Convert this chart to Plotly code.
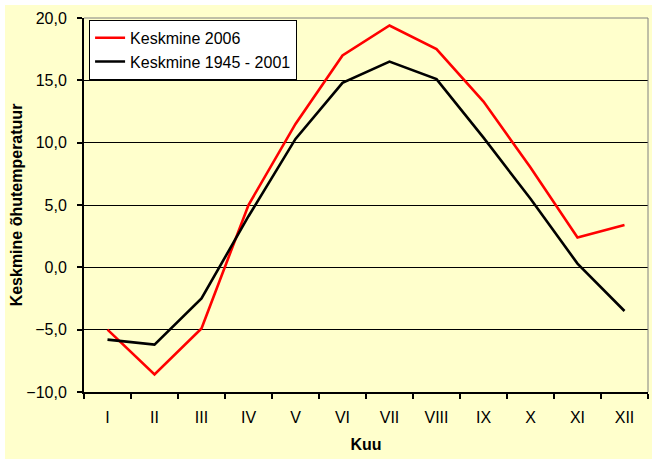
import plotly.graph_objects as go

# Monthly mean air temperature (Estonia)
months = ["I", "II", "III", "IV", "V", "VI", "VII", "VIII", "IX", "X", "XI", "XII"]
temp_2006 = [-5.0, -8.6, -4.9, 5.0, 11.5, 17.0, 19.4, 17.5, 13.3, 8.0, 2.4, 3.4]
temp_1945_2001 = [-5.8, -6.2, -2.5, 4.1, 10.3, 14.8, 16.5, 15.1, 10.4, 5.5, 0.3, -3.5]

BG = "#FFFFCC"
FONT = "Liberation Sans, Arial, sans-serif"

fig = go.Figure()

fig.add_trace(go.Scatter(
    x=months, y=temp_2006, mode="lines", name="Keskmine 2006",
    line=dict(color="#FF0000", width=2.6),
))
fig.add_trace(go.Scatter(
    x=months, y=temp_1945_2001, mode="lines", name="Keskmine 1945 - 2001",
    line=dict(color="#000000", width=2.6),
))

# margins in px, used to place the yellow chart-area box round the plot
L, R, T, B = 84, 9, 18, 72
W, H = 657, 464
pw, ph = W - L - R, H - T - B
pad = 5

fig.add_shape(type="rect", xref="paper", yref="paper", layer="below",
              x0=-(L - pad) / pw, x1=1 + (R - pad) / pw,
              y0=-(B - pad) / ph, y1=1 + (T - pad) / ph,
              fillcolor=BG, line=dict(width=0))
# gray plot-area border on top and right
fig.add_shape(type="line", xref="paper", yref="paper", x0=0, x1=1, y0=1, y1=1,
              line=dict(color="#808080", width=1))
fig.add_shape(type="line", xref="paper", yref="paper", x0=1, x1=1, y0=0, y1=1,
              line=dict(color="#808080", width=1))

fig.update_layout(
    width=W, height=H,
    margin=dict(l=L, r=R, t=T, b=B, autoexpand=False),
    paper_bgcolor="white",
    plot_bgcolor=BG,
    separators=",.",
    font=dict(family=FONT, size=16, color="black"),
    legend=dict(
        x=0.009, y=0.995, xanchor="left", yanchor="top",
        bgcolor="white", bordercolor="black", borderwidth=1,
        font=dict(size=16), tracegroupgap=0, itemwidth=30,
    ),
    xaxis=dict(
        type="category", range=[-0.5, 11.5], automargin=True,
        showgrid=False, showline=True, linecolor="black", linewidth=2,
        ticks="outside", tickson="boundaries", ticklen=5, tickwidth=2,
        tickcolor="black", ticklabelstandoff=10,
        title=dict(text="<b>Kuu</b>", font=dict(size=16), standoff=14),
    ),
    yaxis=dict(
        range=[-10, 20], dtick=5, tickformat=".1f", automargin=True,
        showgrid=True, gridcolor="black", gridwidth=1, zeroline=False,
        showline=True, linecolor="black", linewidth=2,
        ticks="outside", ticklen=5, tickwidth=2, tickcolor="black",
        ticklabelstandoff=7,
        title=dict(text="<b>Keskmine õhutemperatuur</b>", font=dict(size=16),
                   standoff=0),
    ),
)

# the page's default body margin would shift the chart by 8 px
fig.write_html("out.html", config={"displayModeBar": False},
               post_script="document.body.style.margin = '0';")
